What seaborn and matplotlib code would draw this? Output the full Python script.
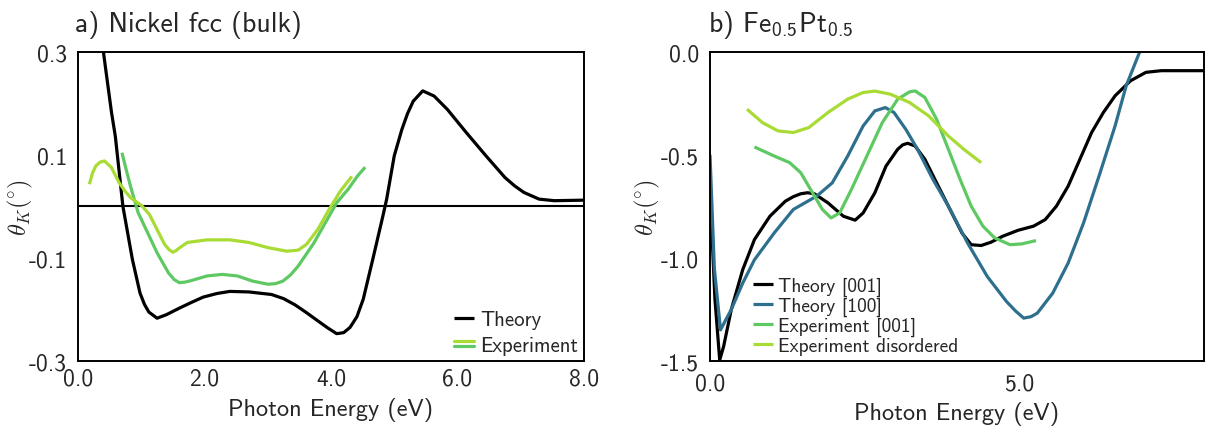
import numpy as np
import pandas as pd
import matplotlib
matplotlib.use("Agg")
import matplotlib.pyplot as plt
import seaborn as sns
from matplotlib.legend_handler import HandlerBase
from matplotlib.lines import Line2D

# ---------------- data ----------------
# Panel a) Nickel fcc (bulk)
ni_theory_E = [0.38, 0.45, 0.53, 0.59, 0.71, 0.86, 0.98, 1.05, 1.12, 1.25, 1.40, 1.61, 1.80, 1.98, 2.20,
               2.40, 2.70, 3.06, 3.25, 3.43, 3.61, 3.79, 3.95, 4.09, 4.20, 4.30, 4.41, 4.51, 4.66,
               4.82, 4.88, 5.00, 5.12, 5.21, 5.30, 5.45, 5.63, 5.84, 6.14, 6.45, 6.75, 6.90, 7.05,
               7.29, 7.53, 8.00]
ni_theory_K = [0.32, 0.255, 0.182, 0.136, 0.000, -0.103, -0.168, -0.190, -0.205, -0.217, -0.210, -0.197,
               -0.186, -0.176, -0.169, -0.165, -0.166, -0.171, -0.179, -0.191, -0.206, -0.222, -0.236,
               -0.247, -0.245, -0.235, -0.214, -0.180, -0.103, -0.019, 0.014, 0.098, 0.149, 0.180,
               0.204, 0.224, 0.214, 0.188, 0.143, 0.098, 0.056, 0.040, 0.027, 0.014, 0.011, 0.012]

ni_exp1_E = [0.695, 0.76, 0.83, 0.95, 1.10, 1.25, 1.43, 1.52, 1.60, 1.69, 1.79, 2.04, 2.28, 2.52, 2.76,
             3.00, 3.12, 3.24, 3.36, 3.48, 3.73, 3.97, 4.09, 4.27, 4.42, 4.54]
ni_exp1_K = [0.104, 0.072, 0.039, -0.012, -0.051, -0.090, -0.129, -0.142, -0.148, -0.147, -0.144, -0.135,
             -0.132, -0.135, -0.145, -0.151, -0.150, -0.145, -0.133, -0.116, -0.071, -0.019, 0.007,
             0.033, 0.059, 0.076]

ni_exp2_E = [0.18, 0.23, 0.28, 0.35, 0.42, 0.53, 0.65, 0.74, 0.83, 1.01, 1.13, 1.25, 1.37, 1.44, 1.50,
             1.55, 1.61, 1.73, 2.04, 2.40, 2.70, 3.00, 3.30, 3.48, 3.61, 3.79, 3.97, 4.15, 4.33]
ni_exp2_K = [0.043, 0.065, 0.078, 0.086, 0.088, 0.075, 0.046, 0.030, 0.017, 0.001, -0.016, -0.045,
             -0.074, -0.084, -0.089, -0.086, -0.080, -0.070, -0.065, -0.065, -0.070, -0.080, -0.087,
             -0.085, -0.074, -0.045, -0.006, 0.030, 0.058]

# Panel b) Fe0.5Pt0.5
fp_t001_E = [0.00, 0.08, 0.157, 0.22, 0.345, 0.53, 0.72, 0.97, 1.22, 1.35, 1.47, 1.58, 1.69, 1.91, 2.16,
             2.35, 2.48, 2.67, 2.85, 3.04, 3.12, 3.20, 3.32, 3.48, 3.67, 3.86, 4.08, 4.23, 4.39, 4.55,
             4.74, 4.99, 5.24, 5.43, 5.61, 5.80, 5.99, 6.18, 6.37, 6.56, 6.81, 7.06, 7.31, 8.00]
fp_t001_K = [-0.67, -1.20, -1.495, -1.43, -1.25, -1.057, -0.911, -0.798, -0.725, -0.703, -0.689, -0.684,
             -0.689, -0.733, -0.798, -0.817, -0.782, -0.684, -0.555, -0.473, -0.452, -0.444, -0.457,
             -0.522, -0.636, -0.749, -0.879, -0.936, -0.940, -0.924, -0.895, -0.866, -0.846, -0.814,
             -0.749, -0.652, -0.522, -0.392, -0.295, -0.214, -0.141, -0.100, -0.092, -0.092]

fp_t100_E = [0.00, 0.07, 0.17, 0.345, 0.53, 0.72, 1.04, 1.35, 1.73, 1.98, 2.23, 2.48, 2.67, 2.84, 2.98,
             3.17, 3.36, 3.61, 3.86, 4.17, 4.49, 4.80, 4.95, 5.08, 5.20, 5.30, 5.55, 5.80, 6.05, 6.30,
             6.56, 6.74, 6.96, 7.10]
fp_t100_K = [-0.50, -1.05, -1.349, -1.25, -1.122, -1.009, -0.879, -0.765, -0.700, -0.636, -0.506, -0.360,
             -0.287, -0.271, -0.295, -0.376, -0.473, -0.619, -0.749, -0.927, -1.090, -1.211, -1.258,
             -1.292, -1.285, -1.268, -1.171, -1.025, -0.830, -0.603, -0.360, -0.165, 0.000, 0.10]

fp_e001_E = [0.72, 1.04, 1.29, 1.47, 1.66, 1.82, 1.96, 2.10, 2.29, 2.54, 2.79, 3.04, 3.23, 3.32, 3.48,
             3.67, 3.86, 4.05, 4.23, 4.42, 4.61, 4.86, 5.05, 5.28]
fp_e001_K = [-0.462, -0.506, -0.538, -0.587, -0.684, -0.765, -0.806, -0.782, -0.668, -0.506, -0.344,
             -0.230, -0.195, -0.190, -0.222, -0.328, -0.473, -0.619, -0.749, -0.846, -0.903, -0.936,
             -0.932, -0.916]

fp_edis_E = [0.60, 0.85, 1.10, 1.35, 1.60, 1.91, 2.23, 2.48, 2.67, 2.92, 3.23, 3.54, 3.86, 4.11, 4.39]
fp_edis_K = [-0.279, -0.344, -0.384, -0.392, -0.368, -0.295, -0.230, -0.198, -0.191, -0.206, -0.246,
             -0.311, -0.409, -0.473, -0.538]

a_xticks = [0.0, 2.0, 4.0, 6.0, 8.0]
a_xticklabels = ["0.0", "2.0", "4.0", "6.0", "8.0"]
a_yticks = [0.3, 0.1, -0.1, -0.3]
a_yticklabels = ["0.3", "0.1", "-0.1", "-0.3"]
a_yminor = [0.2, 0.0, -0.2]
b_xticks = [0.0, 5.0]
b_xticklabels = ["0.0", "5.0"]
b_xminor = [2.5, 7.5]
b_yticks = [0.0, -0.5, -1.0, -1.5]
b_yticklabels = ["0.0", "-0.5", "-1.0", "-1.5"]

# ---------------- style ----------------
sns.set_style("white")
plt.rcParams["font.family"] = ["cmss10", "DejaVu Sans"]
plt.rcParams["mathtext.fontset"] = "cm"
plt.rcParams["mathtext.rm"] = "cmss10"
plt.rcParams["mathtext.sf"] = "cmss10"
plt.rcParams["mathtext.it"] = "cmss10"
plt.rcParams["mathtext.bf"] = "cmss10"
plt.rcParams["axes.unicode_minus"] = False
plt.rcParams["axes.formatter.use_mathtext"] = True

BLACK = "#000000"
BLUE = "#2e6f8e"
GREEN = "#5ec962"
YGREEN = "#a8db34"
LW = 2.3
TICK_FS = 17
LABEL_FS = 17.5

fig = plt.figure(figsize=(12.08, 4.31), dpi=100)
axA = fig.add_axes([78 / 1208, 69 / 431, 506 / 1208, 309.3 / 431])
axB = fig.add_axes([710 / 1208, 69 / 431, 494 / 1208, 309.3 / 431])


def draw(ax, E, K, color, label=None):
    df = pd.DataFrame({"E": E, "K": K})
    sns.lineplot(data=df, x="E", y="K", ax=ax, color=color, lw=LW, sort=False,
                 estimator=None, label=label, legend=False, solid_joinstyle="round",
                 solid_capstyle="butt")
    return ax.get_lines()[-1]


class StackedHandler(HandlerBase):
    def create_artists(self, legend, orig_handle, xdescent, ydescent, width, height, fontsize, trans):
        arts = []
        n = len(orig_handle)
        for i, h in enumerate(orig_handle):
            y = height / 2 - ydescent + (((n - 1) / 2) - i) * height * 0.36
            ln = Line2D([-xdescent, -xdescent + width], [y, y], color=h.get_color(),
                        lw=h.get_linewidth(), transform=trans)
            arts.append(ln)
        return arts


YLABEL = r"$\theta_K\mathsf{(}^{\circ}\mathsf{)}$"

# ---- panel a ----
axA.axhline(0, color="black", lw=1.5, zorder=1)
lA_t = draw(axA, ni_theory_E, ni_theory_K, BLACK)
lA_e1 = draw(axA, ni_exp1_E, ni_exp1_K, GREEN)
lA_e2 = draw(axA, ni_exp2_E, ni_exp2_K, YGREEN)
axA.set_xlim(0, 8)
axA.set_ylim(-0.3, 0.3)
axA.set_xticks(a_xticks, labels=a_xticklabels)
axA.set_yticks(a_yticks, labels=a_yticklabels)
axA.set_yticks(a_yminor, minor=True)
axA.tick_params(axis="x", which="major", direction="in", length=5, width=1.3, labelsize=TICK_FS, pad=5)
axA.tick_params(axis="y", which="major", length=0, labelsize=TICK_FS, pad=8)
axA.tick_params(axis="y", which="minor", direction="in", length=5, width=1.3)
axA.set_xlabel("Photon Energy (eV)", fontsize=LABEL_FS, labelpad=5)
yl = axA.set_ylabel(YLABEL, fontsize=LABEL_FS)
yl.set_math_fontfamily("cm")
axA.yaxis.set_label_coords(-0.085, 0.5)
tA = axA.set_title("a) Nickel fcc (bulk)", loc="left", fontsize=20, pad=15, x=-0.005)
axA.legend([lA_t, (lA_e2, lA_e1)], ["Theory", "Experiment"],
           handler_map={tuple: StackedHandler()}, loc="lower right",
           bbox_to_anchor=(1.0, 0.0), frameon=False, fontsize=15,
           handlelength=0.95, handletextpad=0.3, labelspacing=0.3, borderpad=0.2,
           borderaxespad=0.1)

# ---- panel b ----
lB_1 = draw(axB, fp_t001_E, fp_t001_K, BLACK)
lB_2 = draw(axB, fp_t100_E, fp_t100_K, BLUE)
lB_3 = draw(axB, fp_e001_E, fp_e001_K, GREEN)
lB_4 = draw(axB, fp_edis_E, fp_edis_K, YGREEN)
axB.set_xlim(0, 8)
axB.set_ylim(-1.5, 0.0)
axB.set_xticks(b_xticks, labels=b_xticklabels)
axB.set_xticks(b_xminor, minor=True)
axB.set_yticks(b_yticks, labels=b_yticklabels)
axB.tick_params(axis="x", which="major", length=0, labelsize=TICK_FS, pad=8)
axB.tick_params(axis="x", which="minor", direction="in", length=5, width=1.3)
axB.tick_params(axis="y", which="major", length=0, labelsize=TICK_FS, pad=8)
axB.set_xlabel("Photon Energy (eV)", fontsize=LABEL_FS, labelpad=5)
yl = axB.set_ylabel(YLABEL, fontsize=LABEL_FS)
yl.set_math_fontfamily("cm")
axB.yaxis.set_label_coords(-0.097, 0.5)
tB = axB.set_title(r"b) Fe$_{0.5}$Pt$_{0.5}$", loc="left", fontsize=20, pad=15, x=-0.005)
tB.set_math_fontfamily("custom")
axB.legend([lB_1, lB_2, lB_3, lB_4],
           ["Theory [001]", "Theory [100]", "Experiment [001]", "Experiment disordered"],
           loc="lower left", bbox_to_anchor=(0.076, 0.0), frameon=False, fontsize=14,
           handlelength=1.0, handletextpad=0.25, labelspacing=0.05, borderpad=0.2,
           borderaxespad=0.1)

for ax in (axA, axB):
    for s in ax.spines.values():
        s.set_color("black")
        s.set_linewidth(1.4)
        s.set_visible(True)

fig.savefig("out.png", dpi=100)
